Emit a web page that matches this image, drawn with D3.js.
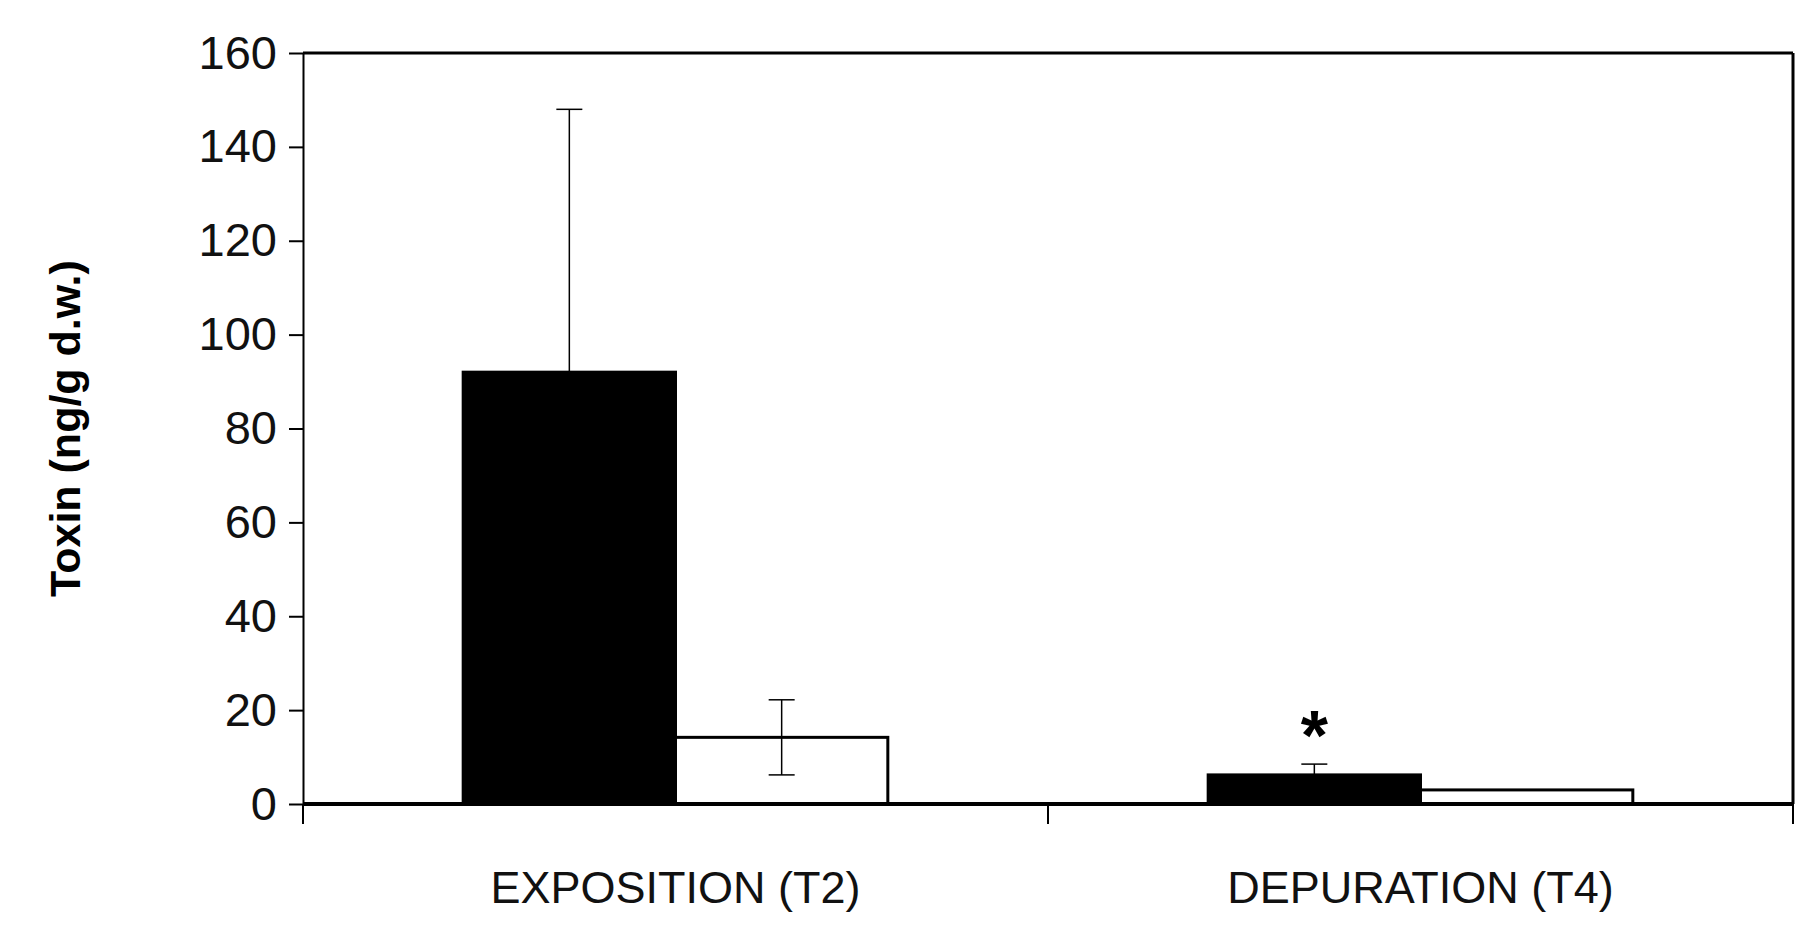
<!DOCTYPE html><html><head><meta charset="utf-8"><script src="https://cdn.jsdelivr.net/npm/d3@7"></script>
<style>body{margin:0;background:#fff}</style></head><body><svg id="c" width="1820" height="934"></svg>
<script>
const categories=["EXPOSITION (T2)","DEPURATION (T4)"];
const seriesA=[92,6.2];      // black bars
const seriesAErr=[56,2.3];   // upper error
const seriesB=[14.2,3];      // white bars
const seriesBErr=[8,0];
const yTicks=[0,20,40,60,80,100,120,140,160];
const marks=["","*"];

const svg=d3.select("#c");
const L=303,R=1793,T=53,B=804;
const x=d3.scaleBand().domain(categories).range([L,R]);
const y=d3.scaleLinear().domain([0,160]).range([B,T]);
const bw=x.bandwidth()*0.285;
const font="'Liberation Sans', Arial, sans-serif";

svg.append("line").attr("x1",L).attr("x2",R).attr("y1",T).attr("y2",T).attr("stroke","#000").attr("stroke-width",3);
svg.append("line").attr("x1",R).attr("x2",R).attr("y1",T).attr("y2",B).attr("stroke","#000").attr("stroke-width",3);

const g=svg.append("g");
categories.forEach((c,i)=>{
  const cx=x(c)+x.bandwidth()/2;
  g.append("rect").attr("x",cx-bw).attr("width",bw).attr("y",y(seriesA[i])).attr("height",B-y(seriesA[i])).attr("fill","#000").attr("stroke","#000").attr("stroke-width",3);
  g.append("rect").attr("x",cx).attr("width",bw).attr("y",y(seriesB[i])).attr("height",B-y(seriesB[i])).attr("fill","#fff").attr("stroke","#000").attr("stroke-width",3);
  const ax=cx-bw/2, bx=cx+bw/2;
  if(seriesAErr[i]>0){
    g.append("line").attr("x1",ax).attr("x2",ax).attr("y1",y(seriesA[i])).attr("y2",y(seriesA[i]+seriesAErr[i])).attr("stroke","#000").attr("stroke-width",1.5);
    g.append("line").attr("x1",ax-13).attr("x2",ax+13).attr("y1",y(seriesA[i]+seriesAErr[i])).attr("y2",y(seriesA[i]+seriesAErr[i])).attr("stroke","#000").attr("stroke-width",1.5);
  }
  if(seriesBErr[i]>0){
    const lo=y(seriesB[i]-seriesBErr[i]),hi=y(seriesB[i]+seriesBErr[i]);
    g.append("line").attr("x1",bx).attr("x2",bx).attr("y1",lo).attr("y2",hi).attr("stroke","#000").attr("stroke-width",1.5);
    [lo,hi].forEach(v=>g.append("line").attr("x1",bx-13).attr("x2",bx+13).attr("y1",v).attr("y2",v).attr("stroke","#000").attr("stroke-width",1.5));
  }
  if(marks[i]) g.append("text").attr("x",ax).attr("y",y(seriesA[i]+seriesAErr[i])-4).attr("text-anchor","middle").attr("font-family",font).attr("font-weight","bold").attr("font-size",70).text(marks[i]);
});

const ya=svg.append("g").attr("transform",`translate(${L},0)`).call(d3.axisLeft(y).tickValues(yTicks).tickSize(14).tickSizeOuter(0).tickPadding(12));
ya.select(".domain").attr("stroke-width",2);
ya.selectAll(".tick line").attr("stroke-width",2);
ya.selectAll("text").attr("font-family",font).attr("font-size",47).attr("fill","#111");

svg.append("line").attr("x1",L).attr("x2",R).attr("y1",B).attr("y2",B).attr("stroke","#000").attr("stroke-width",4);
const bounds=[L,x(categories[1]),R];
bounds.forEach(v=>svg.append("line").attr("x1",v).attr("x2",v).attr("y1",B).attr("y2",B+20).attr("stroke","#000").attr("stroke-width",2));
categories.forEach(c=>svg.append("text").attr("x",x(c)+x.bandwidth()/2).attr("y",903).attr("text-anchor","middle").attr("font-family",font).attr("font-size",45).attr("fill","#111").text(c));

svg.append("text").attr("transform",`translate(80,${(T+B)/2}) rotate(-90)`).attr("text-anchor","middle").attr("font-family",font).attr("font-weight","bold").attr("font-size",43).text("Toxin (ng/g d.w.)");
</script></body></html>
